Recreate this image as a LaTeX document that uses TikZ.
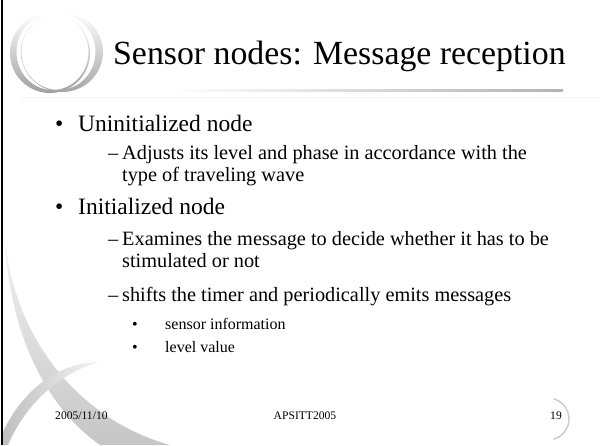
\documentclass[tikz,border=0pt]{standalone}
\usepackage{fontspec}
\setmainfont{Liberation Serif}
\begin{document}
\begin{tikzpicture}[x=1pt,y=-1pt,
  lone/.style={anchor=base west,inner sep=0pt,font=\fontsize{23.5}{26}\selectfont},
  ltwo/.style={anchor=base west,inner sep=0pt,font=\fontsize{20.3}{24}\selectfont},
  lthree/.style={anchor=base west,inner sep=0pt,font=\fontsize{16}{18}\selectfont},
  foot/.style={anchor=base,inner sep=0pt,font=\fontsize{11.6}{13}\selectfont}]
\useasboundingbox (0,0) rectangle (609,445);
% left swooshes
\shade[top color=gray!10,middle color=gray!40,bottom color=gray!45]
  (5,240) .. controls (15,340) and (80,420) .. (170,445) -- (100,445)
  .. controls (50,410) and (10,340) .. (5,240) -- cycle;
\shade[left color=gray!50,right color=gray!8]
  (100,362) .. controls (55,362) and (20,395) .. (3,432) -- (3,445) -- (8,445)
  .. controls (25,405) and (60,372) .. (100,362) -- cycle;
% rings
\shade[even odd rule,shading angle=45,top color=white,bottom color=gray!75]
  (50,53) ellipse [x radius=40,y radius=40] (52.5,52) ellipse [x radius=36,y radius=38];
\shade[even odd rule,shading angle=-60,top color=white,bottom color=gray!70]
  (62,52) ellipse [x radius=41,y radius=40] (58.5,52) ellipse [x radius=37,y radius=38];
% title rules
\shade[left color=white,right color=gray!60] (170,89) rectangle (563,91);
\fill[gray!8] (20,97) rectangle (600,98);
% page-number arc
\draw[gray!40,line width=1.5pt] (548,419) ++(-75:21) arc (-75:75:21);
% left border
\draw[line width=2.5pt] (2,0) -- (2,445);
% title
\node[anchor=base west,inner sep=0pt,font=\fontsize{33.8}{38}\selectfont] (title) at (113,64) {Sensor nodes: Message reception};
% level 1
\node[lone] (b1) at (55,131) {•};
\node[lone] (t1) at (78,131) {Uninitialized node};
\node[ltwo] (d1) at (108,159) {–};
\node[ltwo] (t2) at (122,159) {Adjusts its level and phase in accordance with the};
\node[ltwo] (t3) at (122,181) {type of traveling wave};
\node[lone] (b2) at (55,214) {•};
\node[lone] (t4) at (78,214) {Initialized node};
\node[ltwo] (d2) at (108,245) {–};
\node[ltwo] (t5) at (122,245) {Examines the message to decide whether it has to be};
\node[ltwo] (t6) at (122,267) {stimulated or not};
\node[ltwo] (d3) at (108,301) {–};
\node[ltwo] (t7) at (122,301) {shifts the timer and periodically emits messages};
\node[lthree] (b3) at (132,329) {•};
\node[lthree] (t8) at (165,329) {sensor information};
\node[lthree] (b4) at (132,352) {•};
\node[lthree] (t9) at (165,352) {level value};
% footer
\node[foot,anchor=base west] (date) at (55,419) {2005/11/10};
\node[foot] (conf) at (305,419) {APSITT2005};
\node[foot] (page) at (556,419) {19};
\end{tikzpicture}
\end{document}
